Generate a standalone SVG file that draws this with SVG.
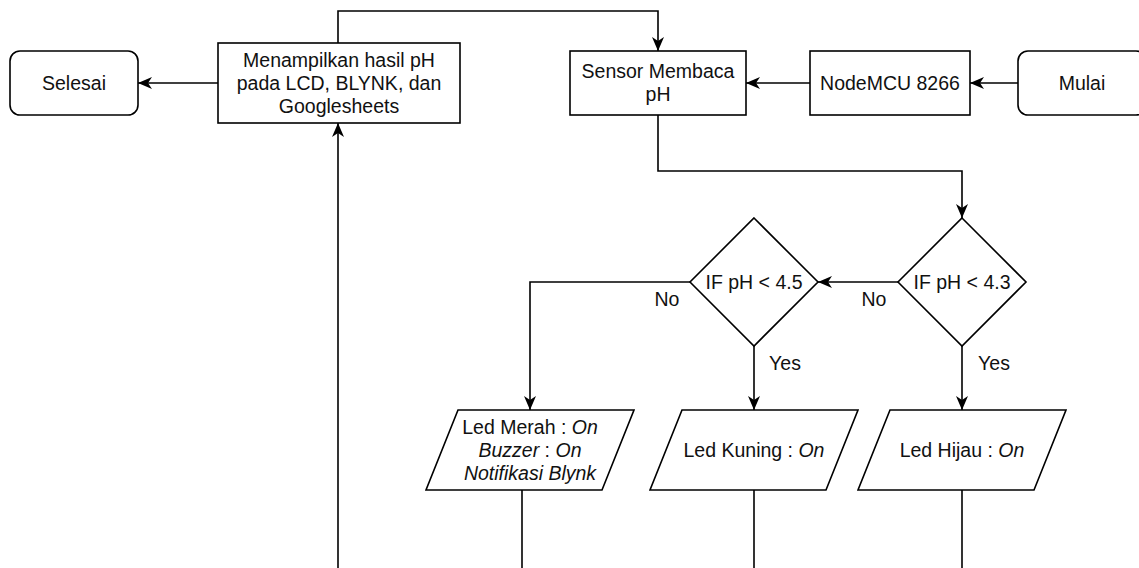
<svg xmlns="http://www.w3.org/2000/svg" width="1139" height="568" viewBox="0 0 1139 568">
<defs>
<marker id="arr" viewBox="0 0 14 12" refX="14" refY="6" markerWidth="14" markerHeight="12" markerUnits="userSpaceOnUse" orient="auto">
<path d="M0,0 L14,6 L0,12 L4,6 Z" fill="#000"/>
</marker>
<style>
.n{fill:#fff;stroke:#000;stroke-width:1.6}
.e{fill:none;stroke:#000;stroke-width:1.6}
.a{marker-end:url(#arr)}
text{font-family:"Liberation Sans",Arial,sans-serif;font-size:19.5px;fill:#111;text-anchor:middle}
.i{font-style:italic}
</style>
</defs>
<rect width="1139" height="568" fill="#fff"/>
<g id="connectors">
<path class="e a" d="M1018,83 L970,83"/>
<path class="e a" d="M810,83 L746,83"/>
<path class="e a" d="M658,115 L658,171 L962,171 L962,218"/>
<path class="e a" d="M898,282 L818,282"/>
<path class="e a" d="M962,346 L962,410"/>
<path class="e a" d="M690,282 L530,282 L530,410"/>
<path class="e a" d="M754,346 L754,410"/>
<path class="e" d="M522,490 L522,570"/>
<path class="e" d="M754,490 L754,570"/>
<path class="e" d="M962,490 L962,570"/>
<path class="e a" d="M338,570 L338,123"/>
<path class="e a" d="M338,43 L338,11 L658,11 L658,51"/>
<path class="e a" d="M218,83 L138,83"/>
<text x="667" y="306">No</text>
<text x="874" y="306">No</text>
<text x="785" y="370">Yes</text>
<text x="994" y="370">Yes</text>
</g>
<g id="selesai">
<rect class="n" x="10" y="51" width="128" height="64" rx="10"/>
<text x="74" y="90">Selesai</text>
</g>
<g id="menampilkan">
<rect class="n" x="218" y="43" width="242" height="80"/>
<text x="339" y="67">Menampilkan hasil pH</text>
<text x="339" y="90">pada LCD, BLYNK, dan</text>
<text x="339" y="113">Googlesheets</text>
</g>
<g id="sensor">
<rect class="n" x="570" y="51" width="176" height="64"/>
<text x="658" y="78">Sensor Membaca</text>
<text x="658" y="101">pH</text>
</g>
<g id="nodemcu">
<rect class="n" x="810" y="51" width="160" height="64"/>
<text x="890" y="90">NodeMCU 8266</text>
</g>
<g id="mulai">
<rect class="n" x="1018" y="51" width="128" height="64" rx="10"/>
<text x="1082" y="90">Mulai</text>
</g>
<g id="if43">
<polygon class="n" points="962,218 1026,282 962,346 898,282"/>
<text x="962" y="289">IF pH &lt; 4.3</text>
</g>
<g id="if45">
<polygon class="n" points="754,218 818,282 754,346 690,282"/>
<text x="754" y="289">IF pH &lt; 4.5</text>
</g>
<g id="merah">
<polygon class="n" points="458,410 634,410 602,490 426,490"/>
<text x="530" y="434">Led Merah : <tspan class="i">On</tspan></text>
<text x="530" y="457"><tspan class="i">Buzzer</tspan> : <tspan class="i">On</tspan></text>
<text x="530" y="480" class="i">Notifikasi Blynk</text>
</g>
<g id="kuning">
<polygon class="n" points="682,410 858,410 826,490 650,490"/>
<text x="754" y="457">Led Kuning : <tspan class="i">On</tspan></text>
</g>
<g id="hijau">
<polygon class="n" points="890,410 1066,410 1034,490 858,490"/>
<text x="962" y="457">Led Hijau : <tspan class="i">On</tspan></text>
</g>
</svg>
